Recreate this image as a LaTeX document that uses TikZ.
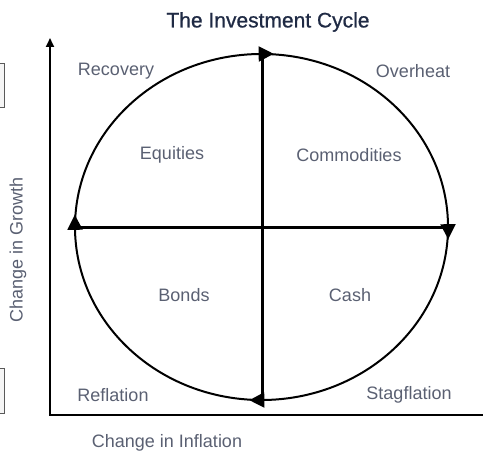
\documentclass[tikz,border=0pt]{standalone}
\usepackage{fontspec}
\setmainfont{Liberation Sans}
\newfontfamily\titlefont{Liberation Sans}[FakeBold=0.8]
\usetikzlibrary{arrows.meta,decorations.markings}
\definecolor{titleblue}{HTML}{1F2A44}
\definecolor{labelgray}{HTML}{5A6072}
\tikzset{
  lbl/.style={text=labelgray, font=\fontsize{18}{21}\selectfont, inner sep=0pt},
  axis/.style={line width=2.2pt, -{Triangle[length=9pt,width=8pt]}},
  cross/.style={line width=3pt},
  cyc/.style={line width=2pt, >={Triangle[length=15pt,width=15pt]},
    postaction={decorate},
    decoration={markings,
      mark=at position 0.0025 with {\arrow{<}},
      mark=at position 0.2525 with {\arrow{<}},
      mark=at position 0.5025 with {\arrow{<}},
      mark=at position 0.7525 with {\arrow{<}}}},
}
\begin{document}
\begin{tikzpicture}[x=1pt,y=-1pt]
        \useasboundingbox (0,0) rectangle (494,457);
        % cut-off boxes at the left edge
        \foreach \t/\b in {63/107,368/413}{
          \filldraw[fill=gray!8, draw=gray!70!black, line width=0.8pt] (-3,\t) rectangle (4.5,\b);
        }
        % axes
        \coordinate (ytop) at (50,38);
        \coordinate (orig) at (50,415);
        \coordinate (xend) at (483,415);
        \draw[axis, {Triangle[length=9pt,width=8pt]}-] (ytop) -- (orig) -- (xend);
        % cycle
        \coordinate (ctr) at (261.5,227);
        \coordinate (north) at (262,54);
        \coordinate (south) at (262,400);
        \coordinate (west) at (75,227);
        \coordinate (east) at (448,227);
        \draw[cyc] (ctr) ellipse [x radius=186.5pt, y radius=173pt];
        \draw[cross] (north) -- (south);
        \draw[cross] (west) -- (east);
        % texts
        \node[font=\titlefont\fontsize{21}{24}\selectfont, text=titleblue, inner sep=0pt] (title) at (268,22) {The Investment Cycle};
        \node[lbl] (recovery) at (116,71) {Recovery};
        \node[lbl] (overheat) at (413,71) {Overheat};
        \node[lbl] (equities) at (172,155) {Equities};
        \node[lbl] (commod) at (349,155) {Commodities};
        \node[lbl] (bonds) at (184,295) {Bonds};
        \node[lbl] (cash) at (350,295) {Cash};
        \node[lbl] (reflation) at (113,395) {Reflation};
        \node[lbl] (stagfl) at (409,395) {Stagflation};
        \node[lbl] (xlabel) at (167,443) {Change in Inflation};
        \node[lbl, rotate=90] (ylabel) at (18,250) {Change in Growth};

      \end{tikzpicture}
\end{document}
